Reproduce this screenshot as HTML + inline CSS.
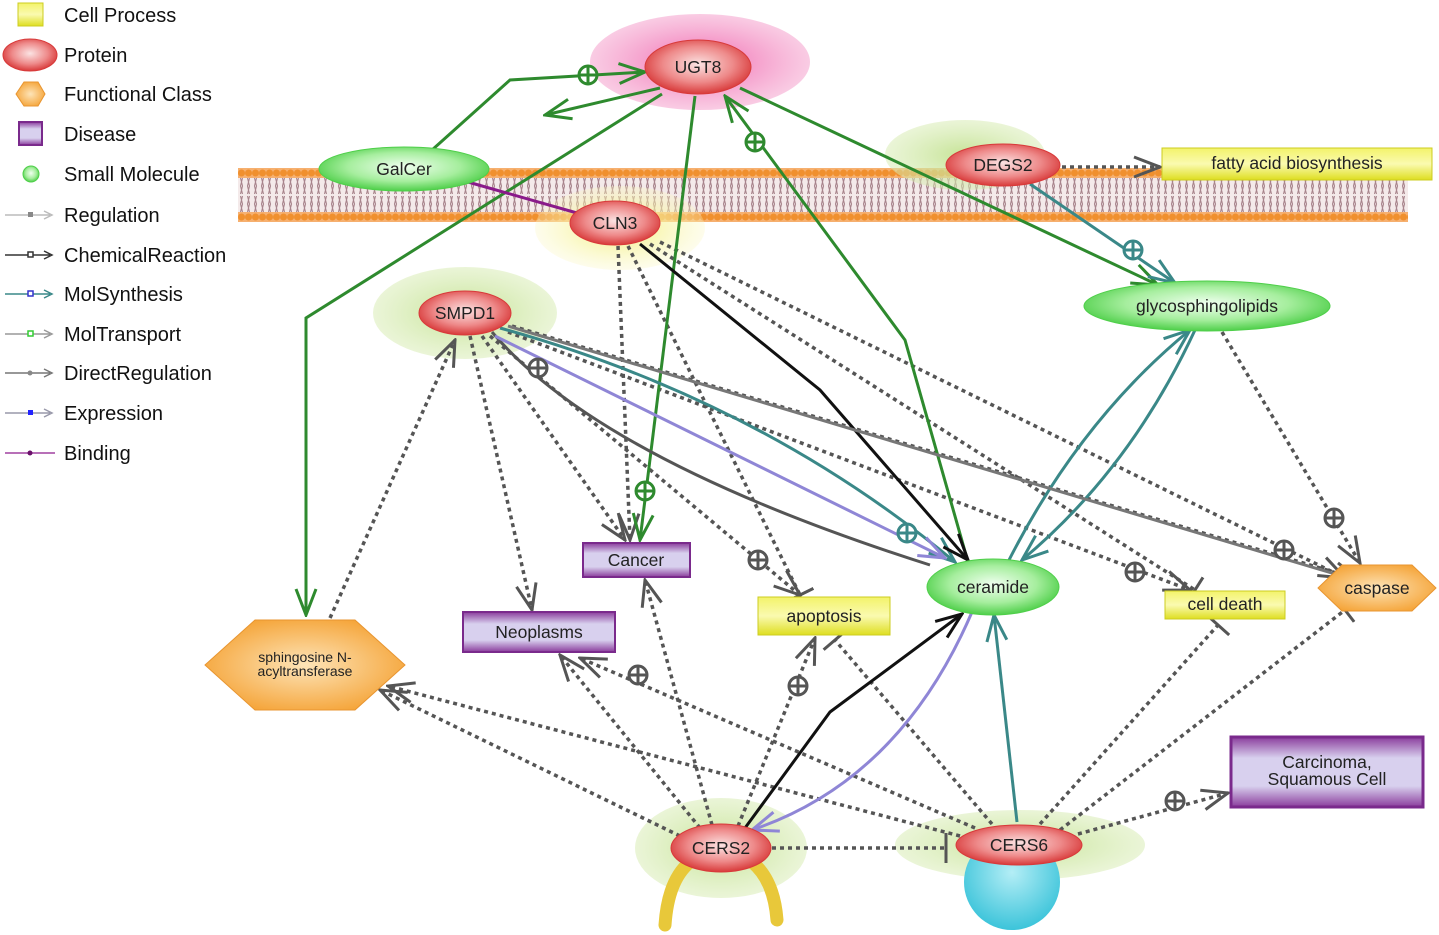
<!DOCTYPE html>
<html><head><meta charset="utf-8"><style>
html,body{margin:0;padding:0;background:#fff;}
svg{display:block;font-family:"Liberation Sans",sans-serif;}
</style></head><body>
<svg width="1439" height="935" viewBox="0 0 1439 935" xmlns="http://www.w3.org/2000/svg">
<defs>
<radialGradient id="gProt" cx="50%" cy="45%" r="55%"><stop offset="0" stop-color="#fbe3e3"/><stop offset="0.6" stop-color="#ee8a8a"/><stop offset="1" stop-color="#d83a3a"/></radialGradient>
<radialGradient id="gSm" cx="50%" cy="45%" r="55%"><stop offset="0" stop-color="#f0fff0"/><stop offset="0.6" stop-color="#a6ee9e"/><stop offset="1" stop-color="#4fcf4a"/></radialGradient>
<linearGradient id="gCell" x1="0" y1="0" x2="0" y2="1"><stop offset="0" stop-color="#f3f36a"/><stop offset="0.5" stop-color="#fafab0"/><stop offset="1" stop-color="#dede20"/></linearGradient>
<linearGradient id="gDis" x1="0" y1="0" x2="0" y2="1"><stop offset="0" stop-color="#8a3c9c"/><stop offset="0.3" stop-color="#d8d0ee"/><stop offset="0.7" stop-color="#d8d0ee"/><stop offset="1" stop-color="#8a3c9c"/></linearGradient>
<radialGradient id="gFn" cx="50%" cy="50%" r="55%"><stop offset="0" stop-color="#fde4b8"/><stop offset="1" stop-color="#f5a53a"/></radialGradient>
<radialGradient id="haloG"><stop offset="0" stop-color="#bfe08a" stop-opacity="0.9"/><stop offset="1" stop-color="#d6ebb0" stop-opacity="0.5"/></radialGradient>
<radialGradient id="haloP"><stop offset="0" stop-color="#f06ab0"/><stop offset="1" stop-color="#f7b6d8" stop-opacity="0.7"/></radialGradient>
<radialGradient id="haloY"><stop offset="0" stop-color="#f3f07a"/><stop offset="1" stop-color="#faf7c0" stop-opacity="0.3"/></radialGradient>
<radialGradient id="gCyan" cx="50%" cy="40%" r="60%"><stop offset="0" stop-color="#b4eef6"/><stop offset="1" stop-color="#3cc4da"/></radialGradient>
<pattern id="lip" x="238" y="168" width="7" height="54" patternUnits="userSpaceOnUse">
<rect width="7" height="54" fill="#f4eaea"/>
<rect y="0" width="7" height="10" fill="#f6b070"/>
<rect y="44" width="7" height="10" fill="#f6b070"/>
<circle cx="3.5" cy="5" r="3.5" fill="#f0902e"/><circle cx="3.5" cy="49" r="3.5" fill="#f0902e"/>
<path d="M2.5 10 L4.5 18 L2.5 26 M4.5 10 L2.5 18 L4.5 26 M2.5 28 L4.5 36 L2.5 44 M4.5 28 L2.5 36 L4.5 44" stroke="#a8848c" stroke-width="1.1" fill="none"/>
</pattern>
<marker id="arD" markerWidth="30" markerHeight="24" refX="28" refY="12" orient="auto" markerUnits="userSpaceOnUse"><path d="M2 2 L28 12 L2 22" fill="none" stroke="#555" stroke-width="3"/></marker>
<marker id="arG" markerWidth="30" markerHeight="24" refX="28" refY="12" orient="auto" markerUnits="userSpaceOnUse"><path d="M2 2 L28 12 L2 22" fill="none" stroke="#2e8a2e" stroke-width="3"/></marker>
<marker id="arT" markerWidth="30" markerHeight="24" refX="28" refY="12" orient="auto" markerUnits="userSpaceOnUse"><path d="M2 2 L28 12 L2 22" fill="none" stroke="#3a8888" stroke-width="3"/></marker>
<marker id="arK" markerWidth="30" markerHeight="24" refX="28" refY="12" orient="auto" markerUnits="userSpaceOnUse"><path d="M2 2 L28 12 L2 22" fill="none" stroke="#111" stroke-width="3"/></marker>
<marker id="arP" markerWidth="30" markerHeight="24" refX="28" refY="12" orient="auto" markerUnits="userSpaceOnUse"><path d="M2 2 L28 12 L2 22" fill="none" stroke="#8f86d6" stroke-width="3"/></marker>
<marker id="bar" markerWidth="6" markerHeight="30" refX="3" refY="15" orient="auto" markerUnits="userSpaceOnUse"><path d="M3 0 L3 30" stroke="#555" stroke-width="3"/></marker>
</defs>

<!-- membrane -->
<rect x="238" y="168" width="1170" height="54" fill="url(#lip)"/>

<!-- halos -->
<ellipse cx="700" cy="62" rx="110" ry="48" fill="url(#haloP)"/>
<ellipse cx="965" cy="155" rx="80" ry="35" fill="url(#haloG)"/>
<ellipse cx="620" cy="228" rx="85" ry="42" fill="url(#haloY)"/>
<ellipse cx="465" cy="313" rx="92" ry="46" fill="url(#haloG)"/>
<ellipse cx="721" cy="848" rx="86" ry="50" fill="url(#haloG)"/>
<ellipse cx="1020" cy="845" rx="125" ry="35" fill="url(#haloG)"/>

<!-- edges dotted -->
<g fill="none" stroke="#555" stroke-width="3.5" stroke-dasharray="4 4">
<line x1="1062" y1="167" x2="1160" y2="167" marker-end="url(#arD)"/>
<line x1="618" y1="246" x2="630" y2="540" marker-end="url(#arD)"/>
<line x1="628" y1="246" x2="800" y2="595" marker-end="url(#bar)"/>
<line x1="650" y1="244" x2="1195" y2="590" marker-end="url(#bar)"/>
<line x1="660" y1="242" x2="1345" y2="578" marker-end="url(#arD)"/>
<line x1="470" y1="336" x2="532" y2="610" marker-end="url(#arD)"/>
<line x1="482" y1="336" x2="625" y2="540" marker-end="url(#arD)"/>
<line x1="490" y1="336" x2="800" y2="595" marker-end="url(#arD)"/>
<line x1="508" y1="332" x2="1190" y2="590" marker-end="url(#arD)"/>
<line x1="512" y1="326" x2="1360" y2="580" marker-end="url(#arD)"/>
<line x1="330" y1="618" x2="455" y2="340" marker-end="url(#arD)"/>
<line x1="1222" y1="332" x2="1360" y2="563" marker-end="url(#arD)"/>
<line x1="700" y1="828" x2="560" y2="655" marker-end="url(#arD)"/>
<line x1="712" y1="825" x2="645" y2="580" marker-end="url(#arD)"/>
<line x1="738" y1="826" x2="815" y2="638" marker-end="url(#arD)"/>
<line x1="680" y1="836" x2="380" y2="690" marker-end="url(#arD)"/>
<line x1="772" y1="848" x2="946" y2="848" marker-end="url(#bar)"/>
<line x1="975" y1="828" x2="580" y2="658" marker-end="url(#arD)"/>
<line x1="992" y1="824" x2="835" y2="640" marker-end="url(#bar)"/>
<line x1="960" y1="836" x2="388" y2="686" marker-end="url(#arD)"/>
<line x1="1040" y1="824" x2="1218" y2="625" marker-end="url(#bar)"/>
<line x1="1060" y1="830" x2="1345" y2="610" marker-end="url(#bar)"/>
<line x1="1078" y1="834" x2="1228" y2="793" marker-end="url(#arD)"/>
</g>

<!-- solid edges -->
<g fill="none" stroke-width="3">
<path d="M432 150 L510 80 L645 72" stroke="#2e8a2e" marker-end="url(#arG)"/>
<path d="M660 88 L545 115" stroke="#2e8a2e" marker-end="url(#arG)"/>
<path d="M662 94 L306 318 L306 615" stroke="#2e8a2e" marker-end="url(#arG)"/>
<path d="M695 96 L640 540" stroke="#2e8a2e" marker-end="url(#arG)"/>
<path d="M968 562 L905 340 L725 96" stroke="#2e8a2e" marker-end="url(#arG)"/>
<path d="M740 88 L1158 285" stroke="#2e8a2e" marker-end="url(#arG)"/>
<path d="M1030 184 L1175 283" stroke="#3a8888" marker-end="url(#arT)"/>
<path d="M1008 562 Q1080 420 1190 330" stroke="#3a8888" marker-end="url(#arT)"/>
<path d="M1195 330 Q1130 470 1022 560" stroke="#3a8888" marker-end="url(#arT)"/>
<path d="M500 328 Q760 400 955 562" stroke="#3a8888" marker-end="url(#arT)"/>
<path d="M1017 822 L994 615" stroke="#3a8888" marker-end="url(#arT)"/>
<path d="M640 244 L820 390 L968 560" stroke="#111" marker-end="url(#arK)"/>
<path d="M745 828 L830 712 L962 614" stroke="#111" marker-end="url(#arK)"/>
<path d="M492 332 Q600 460 930 565" stroke="#555"/>
<path d="M508 326 L1335 574" stroke="#777"/>
<path d="M495 336 L945 558" stroke="#8f86d6" marker-end="url(#arP)"/>
<path d="M972 612 Q900 780 752 830" stroke="#8f86d6" marker-end="url(#arP)"/>
<path d="M468 182 L577 213" stroke="#8a1a8a"/>
</g>

<!-- plus circles -->
<g fill="#fff" stroke-width="3">
<g stroke="#2e8a2e"><circle cx="588" cy="75" r="9"/><path d="M579 75h18M588 66v18"/>
<circle cx="755" cy="142" r="9"/><path d="M746 142h18M755 133v18"/>
<circle cx="645" cy="491" r="9"/><path d="M636 491h18M645 482v18"/></g>
<g stroke="#3a8888"><circle cx="1133" cy="250" r="9"/><path d="M1124 250h18M1133 241v18"/>
<circle cx="907" cy="533" r="9"/><path d="M898 533h18M907 524v18"/></g>
<g stroke="#555"><circle cx="538" cy="368" r="9"/><path d="M529 368h18M538 359v18"/>
<circle cx="758" cy="560" r="9"/><path d="M749 560h18M758 551v18"/>
<circle cx="1135" cy="572" r="9"/><path d="M1126 572h18M1135 563v18"/>
<circle cx="1284" cy="550" r="9"/><path d="M1275 550h18M1284 541v18"/>
<circle cx="1334" cy="518" r="9"/><path d="M1325 518h18M1334 509v18"/>
<circle cx="638" cy="675" r="9"/><path d="M629 675h18M638 666v18"/>
<circle cx="798" cy="686" r="9"/><path d="M789 686h18M798 677v18"/>
<circle cx="1175" cy="801" r="9"/><path d="M1166 801h18M1175 792v18"/></g>
</g>

<!-- nodes -->
<g font-size="17.5" text-anchor="middle" fill="#222">
<ellipse cx="404" cy="169" rx="85" ry="22" fill="url(#gSm)" stroke="#4fcf4a"/><text x="404" y="175">GalCer</text>
<ellipse cx="698" cy="67" rx="53" ry="27" fill="url(#gProt)" stroke="#d83a3a"/><text x="698" y="73">UGT8</text>
<ellipse cx="1003" cy="165" rx="57" ry="21" fill="url(#gProt)" stroke="#d83a3a"/><text x="1003" y="171">DEGS2</text>
<rect x="1162" y="148" width="270" height="32" fill="url(#gCell)" stroke="#cccc20"/><text x="1297" y="169">fatty acid biosynthesis</text>
<ellipse cx="615" cy="223" rx="45" ry="22" fill="url(#gProt)" stroke="#d83a3a"/><text x="615" y="229">CLN3</text>
<ellipse cx="465" cy="313" rx="46" ry="22" fill="url(#gProt)" stroke="#d83a3a"/><text x="465" y="319">SMPD1</text>
<ellipse cx="1207" cy="306" rx="123" ry="25" fill="url(#gSm)" stroke="#4fcf4a"/><text x="1207" y="312">glycosphingolipids</text>
<rect x="583" y="543" width="107" height="34" fill="url(#gDis)" stroke="#7a2a8c" stroke-width="2"/><text x="636" y="566">Cancer</text>
<rect x="463" y="612" width="152" height="40" fill="url(#gDis)" stroke="#7a2a8c" stroke-width="2"/><text x="539" y="638">Neoplasms</text>
<rect x="758" y="597" width="132" height="38" fill="url(#gCell)" stroke="#cccc20"/><text x="824" y="622">apoptosis</text>
<ellipse cx="993" cy="587" rx="66" ry="28" fill="url(#gSm)" stroke="#4fcf4a"/><text x="993" y="593">ceramide</text>
<rect x="1165" y="591" width="120" height="28" fill="url(#gCell)" stroke="#cccc20"/><text x="1225" y="610">cell death</text>
<polygon points="1318,588 1342,565 1412,565 1436,588 1412,611 1342,611" fill="url(#gFn)" stroke="#e89530"/><text x="1377" y="594">caspase</text>
<polygon points="205,665 255,620 355,620 405,665 355,710 255,710" fill="url(#gFn)" stroke="#e89530"/>
<text x="305" y="662" font-size="14">sphingosine N-</text><text x="305" y="676" font-size="14">acyltransferase</text>
<rect x="1231" y="737" width="192" height="70" fill="url(#gDis)" stroke="#7a2a8c" stroke-width="3"/><text x="1327" y="768">Carcinoma,</text><text x="1327" y="785">Squamous Cell</text>
<path d="M690 862 Q668 880 665 925 M752 862 Q774 880 777 920" stroke="#e8c83a" stroke-width="13" fill="none" stroke-linecap="round"/>
<ellipse cx="721" cy="848" rx="50" ry="24" fill="url(#gProt)" stroke="#d83a3a"/><text x="721" y="854">CERS2</text>
<circle cx="1012" cy="882" r="48" fill="url(#gCyan)"/>
<ellipse cx="1019" cy="845" rx="63" ry="20" fill="url(#gProt)" stroke="#d83a3a"/><text x="1019" y="851">CERS6</text>
</g>

<!-- legend -->
<g font-size="20" fill="#111">
<rect x="18" y="3" width="25" height="23" fill="url(#gCell)" stroke="#cccc20"/><text x="64" y="22">Cell Process</text>
<ellipse cx="30" cy="55" rx="27" ry="16" fill="url(#gProt)" stroke="#d83a3a"/><text x="64" y="62">Protein</text>
<polygon points="16,94 24,82 38,82 45,94 38,106 24,106" fill="url(#gFn)" stroke="#e89530"/><text x="64" y="101">Functional Class</text>
<rect x="19" y="122" width="23" height="23" fill="url(#gDis)" stroke="#7a2a8c" stroke-width="2"/><text x="64" y="141">Disease</text>
<circle cx="31" cy="174" r="8" fill="url(#gSm)" stroke="#4fcf4a"/><text x="64" y="181">Small Molecule</text>
<g stroke-width="1.5" fill="none">
<path d="M5 215H50M44 211l8 4l-8 4" stroke="#bbb"/><rect x="28" y="212" width="5" height="5" fill="#888"/>
<path d="M5 255H50M44 251l8 4l-8 4" stroke="#333"/><rect x="28" y="252" width="5" height="5" fill="#fff" stroke="#333"/>
<path d="M5 294H50M44 290l8 4l-8 4" stroke="#3a8888"/><rect x="28" y="291" width="5" height="5" fill="#fff" stroke="#33c"/>
<path d="M5 334H50M44 330l8 4l-8 4" stroke="#999"/><rect x="28" y="331" width="5" height="5" fill="#fff" stroke="#3c3"/>
<path d="M5 373H50M44 369l8 4l-8 4" stroke="#777"/><circle cx="30" cy="373" r="2.5" fill="#888"/>
<path d="M5 413H50M44 409l8 4l-8 4" stroke="#99a"/><rect x="28" y="410" width="5" height="5" fill="#22f"/>
<path d="M5 453H55" stroke="#a040a0"/><circle cx="30" cy="453" r="2.5" fill="#6a106a"/>
</g>
<text x="64" y="222">Regulation</text>
<text x="64" y="262">ChemicalReaction</text>
<text x="64" y="301">MolSynthesis</text>
<text x="64" y="341">MolTransport</text>
<text x="64" y="380">DirectRegulation</text>
<text x="64" y="420">Expression</text>
<text x="64" y="460">Binding</text>
</g>
</svg>
</body></html>
